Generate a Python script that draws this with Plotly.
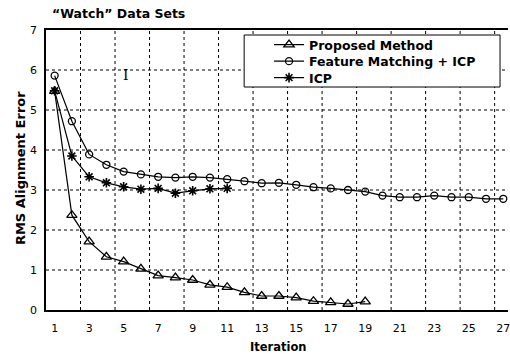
import plotly.graph_objects as go

iterations_proposed = list(range(1, 20))
proposed = [5.47, 2.37, 1.71, 1.33, 1.21, 1.03, 0.86, 0.81, 0.75, 0.63,
            0.57, 0.44, 0.35, 0.35, 0.31, 0.22, 0.19, 0.15, 0.21]

iterations_feature = list(range(1, 28))
feature = [5.86, 4.72, 3.89, 3.63, 3.46, 3.39, 3.33, 3.31, 3.33, 3.31,
           3.27, 3.22, 3.17, 3.18, 3.13, 3.07, 3.04, 3.00, 2.96, 2.86,
           2.82, 2.82, 2.86, 2.82, 2.82, 2.78, 2.78]

iterations_icp = list(range(1, 12))
icp = [5.48, 3.85, 3.33, 3.18, 3.08, 3.02, 3.04, 2.92, 2.98, 3.03, 3.04]

x_tick_vals = list(range(1, 28, 2))
x_tick_text = [str(v) for v in x_tick_vals]
x_grid_vals = [v + 0.5 for v in range(2, 27, 2)]
y_grid_vals = [1, 2, 3, 4, 5, 6]

W, H = 510, 360
L, R, T, B = 46, 0, 30, 50
PW, PH = W - L - R, H - T - B
X_MAX = 0.5 + PW / 17.33

def px(x):
    return (x - L) / PW

def py(y):
    return (H - B - y) / PH

FONT = "DejaVu Sans"
line = dict(color="black", width=1.2)
grid = dict(color="black", width=1, dash="3px,3px")

fig = go.Figure()

# dotted gridlines
for gx in x_grid_vals:
    fig.add_shape(type="line", xref="x", yref="paper", x0=gx, x1=gx,
                  y0=0, y1=1, line=grid, layer="below")
for gy in y_grid_vals:
    fig.add_shape(type="line", xref="paper", yref="y", x0=0, x1=1,
                  y0=gy, y1=gy, line=grid, layer="below")

fig.add_trace(go.Scatter(
    x=iterations_proposed, y=proposed, name="<b>Proposed Method</b>",
    mode="lines+markers", line=line, legend="legend",
    marker=dict(symbol="triangle-up-open", size=9, color="black",
                line=dict(color="black", width=1.3))))
fig.add_trace(go.Scatter(
    x=iterations_feature, y=feature, name="<b>Feature Matching + ICP</b>",
    mode="lines+markers", line=line, legend="legend2",
    marker=dict(symbol="circle-open", size=7, color="black",
                line=dict(color="black", width=1.3))))
fig.add_trace(go.Scatter(
    x=iterations_icp, y=icp, name="<b>ICP</b>",
    mode="lines+markers", line=line, legend="legend3",
    marker=dict(symbol="asterisk-open", size=8, color="black",
                line=dict(color="black", width=1.6))))

fig.add_shape(type="rect", xref="paper", yref="paper",
              x0=px(245), x1=px(502), y0=py(87), y1=py(35),
              fillcolor="white", line=dict(color="black", width=1),
              layer="above")

def leg(yc):
    return dict(x=px(270), y=py(yc), xanchor="left", yanchor="middle",
                bgcolor="rgba(0,0,0,0)", borderwidth=0,
                font=dict(family=FONT, size=12.5, color="black"),
                itemwidth=30)

fig.update_layout(
    width=W, height=H,
    margin=dict(l=L, r=R, t=T, b=B),
    paper_bgcolor="white", plot_bgcolor="white",
    font=dict(family=FONT, color="black", size=11),
    showlegend=True,
    legend=leg(45), legend2=leg(61.5), legend3=leg(78),
    annotations=[
        dict(text="<b>\u201cWatch\u201d Data Sets</b>", xref="paper", yref="paper",
             x=px(50), y=py(14), xanchor="left", yanchor="middle",
             showarrow=False, font=dict(family=FONT, size=12.5)),
        dict(text="<b>RMS Alignment Error</b>", xref="paper", yref="paper",
             x=px(20), y=py(168), xanchor="center", yanchor="middle",
             textangle=-90, showarrow=False, font=dict(family=FONT, size=13)),
        dict(text="<b>Iteration</b>", xref="x", yref="paper",
             x=14, y=py(347), xanchor="center", yanchor="middle",
             showarrow=False, font=dict(family=FONT, size=11.5)),
        dict(text="I", xref="paper", yref="paper",
             x=px(126), y=py(75), xanchor="center", yanchor="middle",
             showarrow=False, font=dict(family="DejaVu Serif", size=14)),
    ],
)

fig.update_xaxes(
    range=[0.5, X_MAX],
    tickmode="array", tickvals=x_tick_vals, ticktext=x_tick_text,
    tickfont=dict(family=FONT, size=11),
    ticklabelstandoff=7, ticklabeloverflow="allow",
    showgrid=False, zeroline=False,
    showline=True, linecolor="black", linewidth=1.5, mirror=True,
    ticks="",
)
fig.update_yaxes(
    range=[0, 7], tickmode="linear", tick0=0, dtick=1,
    tickfont=dict(family=FONT, size=11),
    ticklabelstandoff=5,
    showgrid=False, zeroline=False,
    showline=True, linecolor="black", linewidth=1.5,
    ticks="",
)

fig.write_html("out.html")
